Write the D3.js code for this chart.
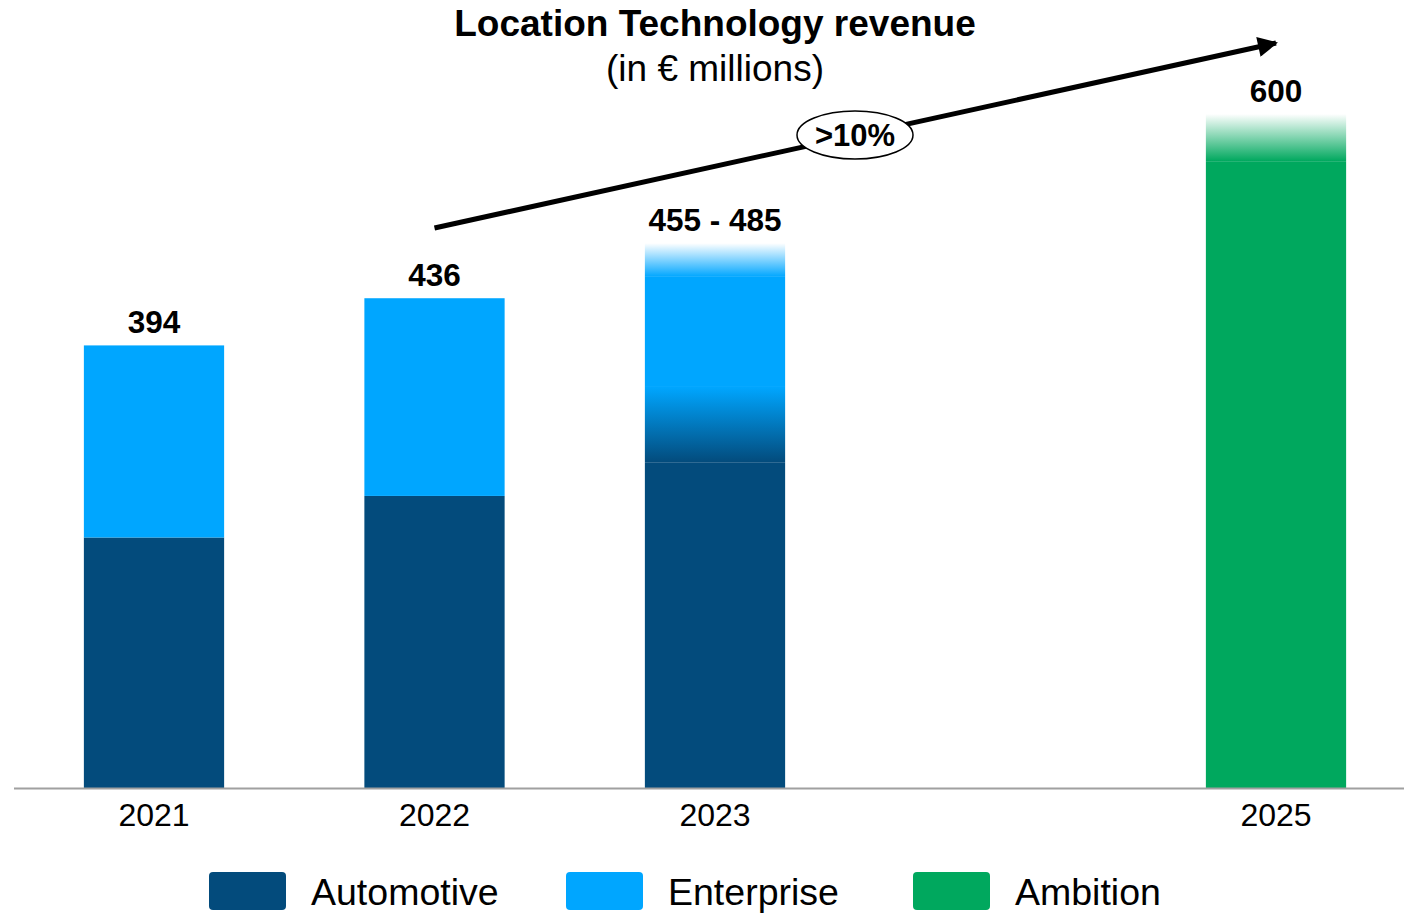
<!DOCTYPE html>
<html><head><meta charset="utf-8">
<script src="https://cdn.jsdelivr.net/npm/d3@7"></script>
<style>html,body{margin:0;padding:0;background:#fff;}svg{display:block;font-family:"Liberation Sans",Arial,sans-serif;}</style>
</head><body>
<svg id="chart" width="1404" height="913"></svg>
<script>
// ---- data ----
const categories = ["2021", "2022", "2023", "2024", "2025"];
const tickLabels = ["2021", "2022", "2023", "", "2025"];
const automotive = [223, 260, 290, null, null];        // solid automotive part
const automotiveRangeTop = [null, null, 357, null, null]; // fading automotive upper range (2023)
const totalLow = [394, 436, 455, null, null];
const totalHigh = [null, null, 485, null, null];
const ambitionLow = [null, null, null, null, 558];
const ambitionHigh = [null, null, null, null, 600];
const valueLabels = ["394", "436", "455 - 485", "", "600"];
const growthLabel = ">10%";
const legendNames = ["Automotive", "Enterprise", "Ambition"];
const colors = {Automotive: "#034b7c", Enterprise: "#00a6ff", Ambition: "#00a85e"};

const svg = d3.select("#chart");
const baseY = 788;
const x = d3.scaleBand().domain(categories).range([13.75, 1416.25]).paddingInner(0.5).paddingOuter(0.25);
const y = d3.scaleLinear().domain([0, 600]).range([baseY, 114]);

const defs = svg.append("defs");
function grad(id, c1, c2) { // c1 at bottom, c2 at top
  const g = defs.append("linearGradient").attr("id", id).attr("x1", 0).attr("y1", 1).attr("x2", 0).attr("y2", 0);
  g.append("stop").attr("offset", "0%").attr("stop-color", c1);
  g.append("stop").attr("offset", "100%").attr("stop-color", c2);
}
grad("gAuto", colors.Automotive, colors.Enterprise);
grad("gEnt", colors.Enterprise, "#ffffff");
grad("gAmb", colors.Ambition, "#ffffff");

const bars = svg.append("g");
categories.forEach((c, i) => {
  const bx = x(c), bw = x.bandwidth();
  const rect = (v0, v1, fill) => bars.append("rect").attr("x", bx).attr("width", bw)
      .attr("y", y(v1)).attr("height", y(v0) - y(v1)).attr("fill", fill);
  if (automotive[i] != null) {
    rect(0, automotive[i], colors.Automotive);
    let entStart = automotive[i];
    if (automotiveRangeTop[i] != null) {
      rect(automotive[i], automotiveRangeTop[i], "url(#gAuto)");
      entStart = automotiveRangeTop[i];
    }
    rect(entStart, totalLow[i], colors.Enterprise);
    if (totalHigh[i] != null) rect(totalLow[i], totalHigh[i], "url(#gEnt)");
  }
  if (ambitionLow[i] != null) {
    rect(0, ambitionLow[i], colors.Ambition);
    rect(ambitionLow[i], ambitionHigh[i], "url(#gAmb)");
  }
  const top = totalHigh[i] ?? totalLow[i] ?? ambitionHigh[i];
  if (top != null) {
    svg.append("text").attr("x", bx + bw / 2).attr("y", y(top) - 12)
      .attr("text-anchor", "middle").attr("font-size", 31.5).attr("font-weight", "bold")
      .attr("fill", "#000").text(valueLabels[i]);
  }
});

// axis
const axis = svg.append("g").attr("transform", `translate(0,${baseY})`)
  .call(d3.axisBottom(x).tickSize(0).tickPadding(15).tickFormat((d, i) => tickLabels[i]));
axis.select(".domain").remove();
axis.selectAll("text").attr("font-size", 32).attr("font-family", "Liberation Sans, Arial, sans-serif").attr("fill", "#000");
svg.append("line").attr("x1", 14).attr("x2", 1404).attr("y1", baseY + 0.5).attr("y2", baseY + 0.5)
  .attr("stroke", "#a0a0a0").attr("stroke-width", 2);

// growth arrow
defs.append("marker").attr("id", "arrow").attr("viewBox", "0 0 10 10").attr("refX", 9).attr("refY", 5)
  .attr("markerWidth", 4.2).attr("markerHeight", 4).attr("orient", "auto").attr("markerUnits", "strokeWidth")
  .append("path").attr("d", "M0,0 L10,5 L0,10 Z").attr("fill", "#000");
const ax1 = x("2022") + x.bandwidth() / 2, ay1 = 228;
const ax2 = x("2025") + x.bandwidth() / 2, ay2 = 43;
svg.append("line").attr("x1", ax1).attr("y1", ay1).attr("x2", ax2).attr("y2", ay2)
  .attr("stroke", "#000").attr("stroke-width", 5).attr("marker-end", "url(#arrow)");
const ex = 855, ey = 135;
svg.append("ellipse").attr("cx", ex).attr("cy", ey).attr("rx", 58).attr("ry", 24)
  .attr("fill", "#fff").attr("stroke", "#000").attr("stroke-width", 1.5);
svg.append("text").attr("x", ex).attr("y", ey + 11).attr("text-anchor", "middle")
  .attr("font-size", 31).attr("font-weight", "bold").text(growthLabel);

// title
svg.append("text").attr("x", 715).attr("y", 36).attr("text-anchor", "middle")
  .attr("font-size", 37).attr("font-weight", "bold").text("Location Technology revenue");
svg.append("text").attr("x", 715).attr("y", 81).attr("text-anchor", "middle")
  .attr("font-size", 37).text("(in € millions)");

// legend
const legX = [209, 566, 913];
legendNames.forEach((n, i) => {
  svg.append("rect").attr("x", legX[i]).attr("y", 872).attr("width", 77).attr("height", 38)
    .attr("rx", 4).attr("fill", colors[n]);
  svg.append("text").attr("x", legX[i] + 102).attr("y", 905).attr("font-size", 37.5).text(n);
});
</script>
</body></html>
